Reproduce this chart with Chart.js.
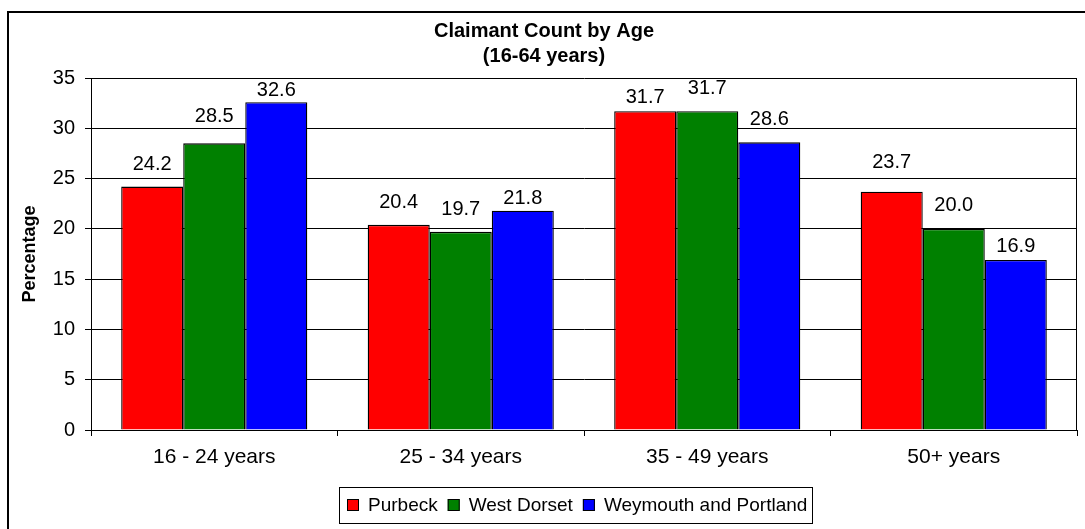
<!DOCTYPE html>
<html>
<head>
<meta charset="utf-8">
<script src="https://cdn.jsdelivr.net/npm/chart.js@4/dist/chart.umd.min.js"></script>
<style>
  html, body { margin: 0; padding: 0; background: #fff; }
  canvas { display: block; }
</style>
</head>
<body>
<canvas id="myChart" width="1085" height="529"></canvas>
<script>
const categories = ['16 - 24 years', '25 - 34 years', '35 - 49 years', '50+ years'];
const purbeck = [24.2, 20.4, 31.7, 23.7];
const west_dorset = [28.5, 19.7, 31.7, 20.0];
const weymouth = [32.6, 21.8, 28.6, 16.9];
const y_ticks = [0, 5, 10, 15, 20, 25, 30, 35];

const FONT = '"Liberation Sans", Arial, sans-serif';

// frame, title, axis label, value labels and boxed legend
const extras = {
    id: 'extras',
    afterDraw(chart) {
        const ctx = chart.ctx;
        const area = chart.chartArea;
        ctx.save();

        // outer frame (runs off the right and bottom edge)
        ctx.strokeStyle = '#000';
        ctx.lineWidth = 2;
        ctx.strokeRect(8, 12, 1200, 700);

        // right border of the plot area
        ctx.lineWidth = 1;
        ctx.beginPath();
        ctx.moveTo(area.right - 0.5, area.top);
        ctx.lineTo(area.right - 0.5, area.bottom);
        ctx.stroke();

        // title
        ctx.fillStyle = '#000';
        ctx.textAlign = 'center';
        ctx.textBaseline = 'middle';
        ctx.font = 'bold 20px ' + FONT;
        ctx.fillText('Claimant Count by Age', 544, 31);
        ctx.fillText('(16-64 years)', 544, 56);

        // y axis title
        ctx.save();
        ctx.translate(30, (area.top + area.bottom) / 2);
        ctx.rotate(-Math.PI / 2);
        ctx.font = 'bold 18px ' + FONT;
        ctx.fillText('Percentage', 0, 0);
        ctx.restore();

        // value labels (gap above each bar varies like the original)
        ctx.font = '20px ' + FONT;
        ctx.textBaseline = 'alphabetic';
        chart.data.datasets.forEach((ds, i) => {
            chart.getDatasetMeta(i).data.forEach((bar, j) => {
                ctx.fillText(ds.data[j].toFixed(1), bar.x, bar.y - ds.labelGaps[j]);
            });
        });

        // legend
        ctx.font = '19px ' + FONT;
        const sq = 12, gapText = 9, gapItem = 10, padL = 8, padR = 5;
        const widths = chart.data.datasets.map(ds => ctx.measureText(ds.label).width);
        let total = padL + padR;
        widths.forEach((w, i) => { total += sq + gapText + w + (i < widths.length - 1 ? gapItem : 0); });
        const boxTop = 487, boxH = 36;
        let x = Math.round(576 - total / 2);
        ctx.lineWidth = 1;
        ctx.strokeRect(x + 0.5, boxTop + 0.5, Math.round(total), boxH);
        x += padL;
        const cy = boxTop + boxH / 2;
        ctx.textAlign = 'left';
        ctx.textBaseline = 'middle';
        chart.data.datasets.forEach((ds, i) => {
            ctx.fillStyle = ds.backgroundColor;
            ctx.fillRect(x, cy - sq / 2, sq, sq);
            ctx.strokeRect(x + 0.5, cy - sq / 2 + 0.5, sq - 1, sq - 1);
            x += sq + gapText;
            ctx.fillStyle = '#000';
            ctx.fillText(ds.label, x, cy + 1);
            x += widths[i] + gapItem;
        });

        ctx.restore();
    }
};

const ctx = document.getElementById('myChart');
const chart = new Chart(ctx, {
    type: 'bar',
    data: {
        labels: categories,
        datasets: [
            { label: 'Purbeck', data: purbeck, backgroundColor: '#ff0000', labelGaps: [17, 17, 8, 24] },
            { label: 'West Dorset', data: west_dorset, backgroundColor: '#008000', labelGaps: [21, 17, 17, 18] },
            { label: 'Weymouth and Portland', data: weymouth, backgroundColor: '#0000ff', labelGaps: [6, 7, 17, 8] }
        ]
    },
    options: {
        responsive: false,
        animation: false,
        devicePixelRatio: 1,
        layout: { padding: { top: 78, right: 8, left: 0, bottom: 0 } },
        datasets: {
            bar: {
                borderColor: '#000',
                borderWidth: 1.3,
                categoryPercentage: 0.755,
                barPercentage: 1
            }
        },
        plugins: {
            legend: { display: false },
            title: { display: false },
            tooltip: { enabled: false }
        },
        scales: {
            x: {
                afterFit: (scale) => { scale.height = 99; },
                grid: {
                    display: true,
                    drawOnChartArea: false,
                    tickLength: 6,
                    color: '#000'
                },
                border: { color: '#000', width: 1 },
                ticks: {
                    color: '#000',
                    font: { family: FONT, size: 21 },
                    padding: 9,
                    maxRotation: 0
                }
            },
            y: {
                min: 0,
                max: 35,
                afterFit: (scale) => { scale.width = 91; },
                afterBuildTicks: (scale) => { scale.ticks = y_ticks.map(v => ({ value: v })); },
                grid: {
                    color: '#000',
                    tickLength: 6
                },
                border: { color: '#000', width: 1 },
                ticks: {
                    color: '#000',
                    font: { family: FONT, size: 20 },
                    padding: 10
                }
            }
        }
    },
    plugins: [extras]
});
</script>
</body>
</html>
